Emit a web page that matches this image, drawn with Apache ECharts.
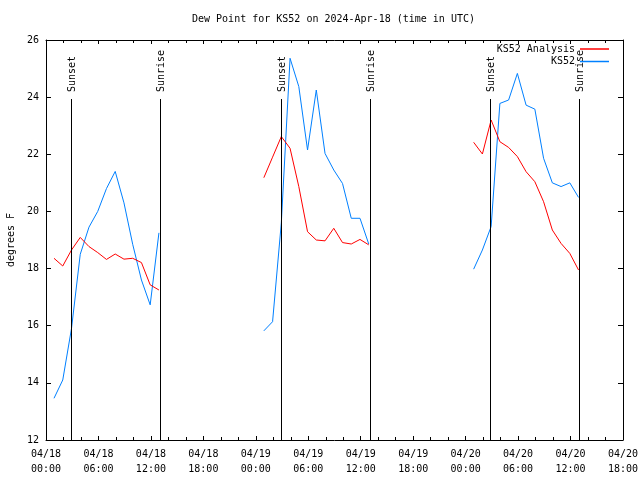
<!DOCTYPE html>
<html>
<head>
<meta charset="utf-8">
<script src="https://cdn.jsdelivr.net/npm/echarts@6/dist/echarts.min.js"></script>
<style>html,body{margin:0;padding:0;background:#fff}#c{width:640px;height:480px}</style>
</head>
<body>
<div id="c"></div>
<script>
// ---- data ----
const obsTimes = [
  '2024-04-18T00:55Z','2024-04-18T01:55Z','2024-04-18T02:55Z','2024-04-18T03:55Z','2024-04-18T04:55Z',
  '2024-04-18T05:55Z','2024-04-18T06:55Z','2024-04-18T07:55Z','2024-04-18T08:55Z','2024-04-18T09:55Z',
  '2024-04-18T10:55Z','2024-04-18T11:55Z','2024-04-18T12:55Z',
  '2024-04-19T00:55Z','2024-04-19T01:55Z','2024-04-19T02:55Z','2024-04-19T03:55Z','2024-04-19T04:55Z',
  '2024-04-19T05:55Z','2024-04-19T06:55Z','2024-04-19T07:55Z','2024-04-19T08:55Z','2024-04-19T09:55Z',
  '2024-04-19T10:55Z','2024-04-19T11:55Z','2024-04-19T12:55Z',
  '2024-04-20T00:55Z','2024-04-20T01:55Z','2024-04-20T02:55Z','2024-04-20T03:55Z','2024-04-20T04:55Z',
  '2024-04-20T05:55Z','2024-04-20T06:55Z','2024-04-20T07:55Z','2024-04-20T08:55Z','2024-04-20T09:55Z',
  '2024-04-20T10:55Z','2024-04-20T11:55Z','2024-04-20T12:55Z'
];
const analysisValues = [
  18.36, 18.09, 18.65, 19.09, 18.77, 18.56, 18.32, 18.51, 18.33, 18.36, 18.21, 17.43, 17.25,
  21.18, 21.90, 22.62, 22.21, 20.87, 19.29, 19.00, 18.97, 19.41, 18.91, 18.86, 19.02, 18.83,
  22.42, 22.01, 23.20, 22.44, 22.24, 21.92, 21.39, 21.04, 20.34, 19.35, 18.88, 18.53, 17.95
];
const stationValues = [
  13.46, 14.10, 15.90, 18.50, 19.45, 20.00, 20.80, 21.40, 20.30, 18.85, 17.60, 16.73, 19.25,
  15.82, 16.14, 19.60, 25.36, 24.37, 22.15, 24.25, 22.03, 21.45, 20.98, 19.76, 19.76, 18.86,
  17.98, 18.65, 19.47, 23.78, 23.90, 24.83, 23.72, 23.58, 21.86, 21.00, 20.87, 21.00, 20.49
];
const sunTimes = ['2024-04-18T02:51Z','2024-04-18T13:03Z','2024-04-19T02:50Z','2024-04-19T13:01Z','2024-04-20T02:48Z','2024-04-20T12:59Z'];
const sunLabels = ['Sunset','Sunrise','Sunset','Sunrise','Sunset','Sunrise'];
const seriesNames = ['KS52 Analysis','KS52'];
const seriesColors = ['#ff0000','#0080ff'];
const yTicks = [12,14,16,18,20,22,24,26];

// ---- build ----
const HOUR = 3600000;
const xMin = Date.UTC(2024,3,18,0,0);
const xMax = xMin + 66*HOUR;
const FONT = 'DejaVu Sans Mono';
function buildData(vals){
  const out = [];
  for (let i=0;i<obsTimes.length;i++){
    const t = Date.parse(obsTimes[i]);
    if (i>0 && t - Date.parse(obsTimes[i-1]) > 3*HOUR) out.push([t - HOUR, '-']);
    out.push([t, vals[i]]);
  }
  return out;
}
const pad = n => (n<10?'0':'')+n;
function fmt(v){
  const d = new Date(v);
  return pad(d.getUTCMonth()+1)+'/'+pad(d.getUTCDate())+'\n'+pad(d.getUTCHours())+':'+pad(d.getUTCMinutes());
}
const baseX = {
  type:'value', min:xMin, max:xMax, interval:6*HOUR,
  axisLine:{show:true, lineStyle:{color:'#000', width:1}},
  axisTick:{show:true, inside:true, length:4, lineStyle:{color:'#000'}},
  minorTick:{show:true, splitNumber:3, length:3, lineStyle:{color:'#000'}},
  splitLine:{show:false}, minorSplitLine:{show:false}
};
const baseY = {
  type:'value', min:yTicks[0], max:yTicks[yTicks.length-1], interval:yTicks[1]-yTicks[0],
  axisLine:{show:true, lineStyle:{color:'#000', width:1}},
  axisTick:{show:true, inside:true, length:5, lineStyle:{color:'#000'}},
  splitLine:{show:false}
};
const legendBase = {
  orient:'horizontal', align:'right', right:31, padding:0, icon:'rect',
  itemWidth:29, itemHeight:1.5, selectedMode:false,
  textStyle:{fontFamily:FONT, fontSize:10, color:'#000', lineHeight:12}
};
const chart = echarts.init(document.getElementById('c'), null, {renderer:'canvas'});
chart.setOption({
  animation:false,
  backgroundColor:'#fff',
  title:{text:'Dew Point for KS52 on 2024-Apr-18 (time in UTC)', left:192, top:13, padding:0,
    textStyle:{fontFamily:FONT, fontSize:10, fontWeight:'normal', color:'#000', lineHeight:12}},
  legend:[
    Object.assign({}, legendBase, {data:[{name:seriesNames[0], itemStyle:{color:seriesColors[0]}}], top:43}),
    Object.assign({}, legendBase, {data:[{name:seriesNames[1], itemStyle:{color:seriesColors[1]}}], top:55.5})
  ],
  grid:{left:46, right:17, top:40, bottom:40, containLabel:false, outerBoundsMode:'none'},
  xAxis:[
    Object.assign({}, baseX, {position:'bottom',
      axisLabel:{show:true, formatter:fmt, margin:7, fontFamily:FONT, fontSize:10, color:'#000', lineHeight:15, showMinLabel:true, showMaxLabel:true}}),
    Object.assign({}, baseX, {position:'top', axisLabel:{show:false}})
  ],
  yAxis:[
    Object.assign({}, baseY, {position:'left', name:'degrees F', nameLocation:'middle', nameRotate:90, nameGap:30,
      nameTextStyle:{fontFamily:FONT, fontSize:10, color:'#000'},
      axisLabel:{show:true, margin:7, fontFamily:FONT, fontSize:10, color:'#000'}}),
    Object.assign({}, baseY, {position:'right', axisLabel:{show:false}})
  ],
  series:[
    {name:seriesNames[0], type:'line', data:buildData(analysisValues), showSymbol:false, symbol:'none',
      lineStyle:{color:seriesColors[0], width:1}, itemStyle:{color:seriesColors[0]}, connectNulls:false, z:3},
    {name:seriesNames[1], type:'line', data:buildData(stationValues), showSymbol:false, symbol:'none',
      lineStyle:{color:seriesColors[1], width:1}, itemStyle:{color:seriesColors[1]}, connectNulls:false, z:2},
    {type:'custom', silent:true, z:4, xAxisIndex:0, yAxisIndex:0,
      data: sunTimes.map(t => [Date.parse(t), yTicks[0]]),
      renderItem: function(params, api){
        const p = api.coord([api.value(0), api.value(1)]);
        const x = Math.round(p[0]) + 0.5;
        const top = params.coordSys.y + 59;
        return {type:'group', children:[
          {type:'line', shape:{x1:x, y1:top, x2:x, y2:p[1]}, style:{stroke:'#000', lineWidth:1}},
          {type:'text', x:x+1, y:top-7, rotation:Math.PI/2,
            style:{text:sunLabels[params.dataIndex], x:0, y:0, align:'left', verticalAlign:'middle',
              font:'10px "DejaVu Sans Mono"', fill:'#000'}}
        ]};
      }}
  ]
});
</script>
</body>
</html>
